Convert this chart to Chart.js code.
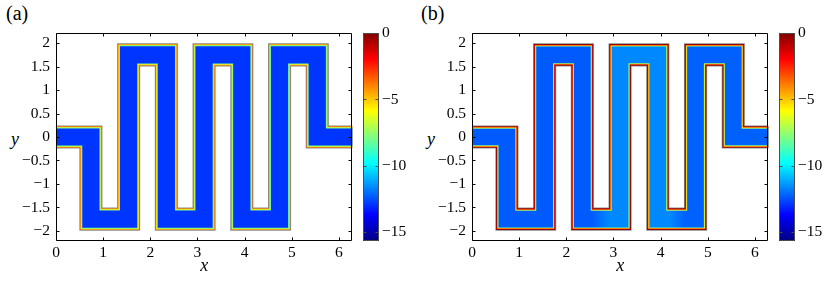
<!DOCTYPE html>
<html>
<head>
<meta charset="utf-8">
<script src="https://cdn.jsdelivr.net/npm/chart.js@4.4.1/dist/chart.umd.min.js"></script>
<style>
  body { margin: 0; background: #fff; font-family: 'Liberation Serif', 'DejaVu Serif', serif; }
  #page { position: relative; width: 830px; height: 281px; overflow: hidden; }
  canvas { position: absolute; top: 0; }
  .tag { position: absolute; top: 2px; font-size: 20px; line-height: 22px; }
  .ylab { position: absolute; top: 128px; font-size: 18px; font-style: italic; line-height: 22px; }
</style>
</head>
<body>
<div id="page">
  <div class="tag" style="left:6px">(a)</div>
  <div class="tag" style="left:421px">(b)</div>
  <div class="ylab" style="left:11px">y</div>
  <div class="ylab" style="left:427px">y</div>
  <canvas id="plotA" width="358" height="281" style="left:0"></canvas>
  <canvas id="barA" width="75" height="281" style="left:340px"></canvas>
  <canvas id="plotB" width="358" height="281" style="left:416px"></canvas>
  <canvas id="barB" width="75" height="281" style="left:756px"></canvas>
</div>
<script>
// axes
const xTicks = [0, 1, 2, 3, 4, 5, 6];
const yTicks = [-2, -1.5, -1, -0.5, 0, 0.5, 1, 1.5, 2];
const cbarTicks = [0, -5, -10, -15];
const xRange = [0, 2 * Math.PI];
const yRange = [-2.215, 2.215];
const cbarRange = [-15.65, 0];

// centre line of the serpentine channel, and its width wall to wall
const pathX = [-0.2, 0.74, 0.74, 1.54, 1.54, 2.34, 2.34, 3.14, 3.14, 3.94, 3.94, 4.74, 4.74, 5.54, 5.54, 6.5];
const pathY = [0, 0, -1.75, -1.75, 1.75, 1.75, -1.75, -1.75, 1.75, 1.75, -1.75, -1.75, 1.75, 1.75, 0, 0];
const channelWidth = 0.49;

// (a) level in the core of the channel and near the wall (outside -> in)
const coreA = -12.9;
const wallA = [-3, -5.5, -8];
// (b) core level changes along x
const coreBx = [0, 2.55, 2.9, 4.2, 4.5, 6.3];
const coreB = [-12.3, -12.3, -11.6, -11.6, -12.2, -12.2];
const wallB = [-0.4, -2.5, -5.5, -8];

// ring thickness in px for the grey halo + each wall level
const ringA = [0.9, 0.35, 0.8, 0.9];
const ringB = [0.7, 0.9, 0.5, 0.7, 0.4];

const FAMILY = "'Liberation Serif', 'DejaVu Serif', serif";
Chart.defaults.font.family = FAMILY;
Chart.defaults.font.size = 15;
Chart.defaults.color = '#000';

function jet(v) {
  const t = (v - cbarRange[0]) / (cbarRange[1] - cbarRange[0]);
  const ch = c => Math.round(255 * Math.min(1, Math.max(0, 1.5 - Math.abs(4 * t - c))));
  return `rgb(${ch(3)},${ch(2)},${ch(1)})`;
}

const fmt = v => String(v).replace('-', '\u2212');

function widthPx(chart) {
  const x = chart.scales.x;
  if (!x) return 1;
  const w = Math.abs(x.getPixelForValue(channelWidth) - x.getPixelForValue(0));
  return isFinite(w) ? w : 1;
}

function coreGradient(chart) {
  const x = chart.scales.x;
  if (!x) return jet(coreB[0]);
  const n = coreBx.length - 1;
  const p0 = x.getPixelForValue(coreBx[0]), p1 = x.getPixelForValue(coreBx[n]);
  if (!isFinite(p0) || !isFinite(p1)) return jet(coreB[0]);
  const g = chart.ctx.createLinearGradient(p0, 0, p1, 0);
  coreBx.forEach((v, i) => g.addColorStop((v - coreBx[0]) / (coreBx[n] - coreBx[0]), jet(coreB[i])));
  return g;
}

function cbarGradient(chart) {
  const s = chart.scales.y;
  if (!s) return '#00f';
  const p0 = s.getPixelForValue(cbarRange[0]), p1 = s.getPixelForValue(cbarRange[1]);
  if (!isFinite(p0) || !isFinite(p1)) return '#00f';
  const g = chart.ctx.createLinearGradient(0, p0, 0, p1);
  [0, 0.125, 0.375, 0.625, 0.875, 1].forEach(t => {
    g.addColorStop(t, jet(cbarRange[0] + t * (cbarRange[1] - cbarRange[0])));
  });
  return g;
}

// one stroke of the channel centre line; inset = px taken off each side
function band(color, inset, order) {
  return {
    data: pathX.map((x, i) => ({x: x, y: pathY[i]})),
    showLine: true,
    pointRadius: 0,
    borderColor: color,
    borderWidth: ctx => Math.max(1, widthPx(ctx.chart) - 2 * inset),
    borderJoinStyle: 'miter',
    borderCapStyle: 'butt',
    fill: false,
    clip: 0,
    order: order
  };
}

// frame and inward ticks, matlab style
const frame = {
  id: 'frame',
  afterDraw(chart, args, o) {
    const {ctx, chartArea: a} = chart;
    const L = Math.round(a.left) + 0.5, R = Math.round(a.right) - 0.5;
    const T = Math.round(a.top) + 0.5, B = Math.round(a.bottom) - 0.5;
    ctx.save();
    ctx.strokeStyle = o.color;
    ctx.lineWidth = 1;
    ctx.beginPath();
    const ys = chart.scales.y;
    ys.ticks.forEach(t => {
      const p = Math.round(ys.getPixelForValue(t.value)) + 0.5;
      ctx.moveTo(L, p); ctx.lineTo(L + o.len, p);
      ctx.moveTo(R, p); ctx.lineTo(R - o.len, p);
    });
    if (o.xticks) {
      const xs = chart.scales.x;
      xs.ticks.forEach(t => {
        const p = Math.round(xs.getPixelForValue(t.value)) + 0.5;
        ctx.moveTo(p, T); ctx.lineTo(p, T + o.len);
        ctx.moveTo(p, B); ctx.lineTo(p, B - o.len);
      });
    }
    ctx.rect(L, T, R - L, B - T);
    ctx.stroke();
    ctx.restore();
  }
};

const tickFont = {family: FAMILY, size: 15.5};

function makePanel(plotId, barId, coreColor, wall, ring) {
  const colors = ['#8c8c8c'].concat(wall.map(jet));
  const datasets = [];
  let inset = 0;
  colors.forEach((c, k) => {
    datasets.push(band(c, inset, colors.length - k));
    inset += ring[k];
  });
  datasets.push(band(ctx => coreColor(ctx.chart), inset, 0));

  new Chart(document.getElementById(plotId), {
    type: 'scatter',
    data: {datasets: datasets},
    plugins: [frame],
    options: {
      responsive: false,
      animation: false,
      events: [],
      layout: {padding: {top: 33, right: 5.7, bottom: 0, left: 0}, autoPadding: false},
      plugins: {
        legend: {display: false},
        tooltip: {enabled: false},
        frame: {color: '#000', len: 3, xticks: true}
      },
      scales: {
        x: {
          type: 'linear', min: xRange[0], max: xRange[1],
          afterBuildTicks: s => { s.ticks = xTicks.map(value => ({value})); },
          afterFit: s => { s.height = 40; },
          grid: {display: false, drawTicks: false}, border: {display: false},
          ticks: {padding: 3, maxRotation: 0, autoSkip: false, font: tickFont, callback: fmt},
          title: {display: true, text: 'x', font: {family: FAMILY, style: 'italic', size: 18}, padding: {top: 0, bottom: 4}}
        },
        y: {
          type: 'linear', min: yRange[0], max: yRange[1],
          afterBuildTicks: s => { s.ticks = yTicks.map(value => ({value})); },
          afterFit: s => { s.width = 56; },
          grid: {display: false, drawTicks: false}, border: {display: false},
          ticks: {padding: 6, autoSkip: false, font: tickFont, callback: fmt}
        }
      }
    }
  });

  new Chart(document.getElementById(barId), {
    type: 'bar',
    data: {
      labels: [''],
      datasets: [{
        data: [cbarRange],
        backgroundColor: ctx => cbarGradient(ctx.chart),
        borderWidth: 0,
        barPercentage: 1,
        categoryPercentage: 1
      }]
    },
    plugins: [frame],
    options: {
      responsive: false,
      animation: false,
      events: [],
      layout: {padding: {top: 33, right: 0, bottom: 40, left: 23}, autoPadding: false},
      plugins: {
        legend: {display: false},
        tooltip: {enabled: false},
        frame: {color: '#4d4d4d', len: 3, xticks: false}
      },
      scales: {
        x: {display: false},
        y: {
          position: 'right', min: cbarRange[0], max: cbarRange[1],
          afterBuildTicks: s => { s.ticks = cbarTicks.map(value => ({value})); },
          afterFit: s => { s.width = 36; },
          grid: {display: false, drawTicks: false}, border: {display: false},
          ticks: {padding: 3, autoSkip: false, font: tickFont, callback: fmt}
        }
      }
    }
  });
}

makePanel('plotA', 'barA', () => jet(coreA), wallA, ringA);
makePanel('plotB', 'barB', coreGradient, wallB, ringB);
</script>
</body>
</html>
